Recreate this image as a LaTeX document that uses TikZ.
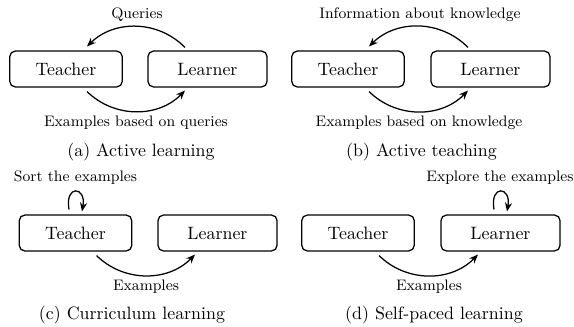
\documentclass[tikz,border=0pt]{standalone}
\usetikzlibrary{arrows.meta,calc}
\begin{document}
\begin{tikzpicture}[x=0.5587pt,y=0.5587pt,
  agent/.style={draw,rounded corners=3pt,line width=0.7pt,minimum height=20pt,inner sep=0pt},
  tbox/.style={agent,minimum width=62.8pt},
  lbox/.style={agent,minimum width=66.5pt},
  flow/.style={line width=0.7pt,-{Stealth[length=5pt,width=4pt]}},
  lab/.style={font=\fontsize{8.5pt}{10pt}\selectfont,inner sep=0pt},
  captxt/.style={inner sep=0pt}]
\useasboundingbox (0,0) rectangle (574,-326);
% (a)
\node[tbox] (Ta) at (66,-69) {Teacher};
\node[lbox] (La) at (207.5,-69) {Learner};
\coordinate (a1) at ($(La.north)+(-22.5,3)$);
\coordinate (a2) at ($(Ta.north)+(21,4)$);
\coordinate (a3) at ($(Ta.south)+(21,-4)$);
\coordinate (a4) at ($(La.south)+(-22.5,-3)$);
\draw[flow] (a1) to[bend right=45] (a2);
\draw[flow] (a3) to[bend right=45] (a4);
\node[lab] (qa) at (137,-15) {Queries};
\node[lab] (ea) at (136,-123) {Examples based on queries};
\node[captxt] (ca) at (141,-152) {(a) Active learning};
% (b)
\node[tbox] (Tb) at (348,-69) {Teacher};
\node[lbox] (Lb) at (490.5,-69) {Learner};
\coordinate (b1) at ($(Lb.north)+(-22.5,3)$);
\coordinate (b2) at ($(Tb.north)+(21,4)$);
\coordinate (b3) at ($(Tb.south)+(21,-4)$);
\coordinate (b4) at ($(Lb.south)+(-22.5,-3)$);
\draw[flow] (b1) to[bend right=45] (b2);
\draw[flow] (b3) to[bend right=45] (b4);
\node[lab] (qb) at (420,-15) {Information about knowledge};
\node[lab] (eb) at (419,-123) {Examples based on knowledge};
\node[captxt] (cb) at (421.5,-152) {(b) Active teaching};
% (c)
\node[tbox] (Tc) at (75.5,-233) {Teacher};
\node[lbox] (Lc) at (217.5,-233) {Learner};
\coordinate (c1) at ($(Tc.north)+(-6.5,5)$);
\coordinate (c2) at ($(Tc.north)+(6.5,3)$);
\coordinate (c3) at ($(Tc.south)+(21,-4)$);
\coordinate (c4) at ($(Lc.south)+(-22.5,-3)$);
\draw[flow] (c1) to[out=100,in=80,looseness=5] (c2);
\draw[flow] (c3) to[bend right=45] (c4);
\node[lab] (sc) at (75.5,-178) {Sort the examples};
\node[lab] (ec) at (146,-287) {Examples};
\node[captxt] (cc) at (132,-315) {(c) Curriculum learning};
% (d)
\node[tbox] (Td) at (358,-233) {Teacher};
\node[lbox] (Ld) at (500.5,-233) {Learner};
\coordinate (d1) at ($(Ld.north)+(-6.5,5)$);
\coordinate (d2) at ($(Ld.north)+(6.5,3)$);
\coordinate (d3) at ($(Td.south)+(21,-4)$);
\coordinate (d4) at ($(Ld.south)+(-22.5,-3)$);
\draw[flow] (d1) to[out=100,in=80,looseness=5] (d2);
\draw[flow] (d3) to[bend right=45] (d4);
\node[lab] (sd) at (500,-178) {Explore the examples};
\node[lab] (ed) at (429,-287) {Examples};
\node[captxt] (cd) at (434,-315) {(d) Self-paced learning};
\end{tikzpicture}
\end{document}
